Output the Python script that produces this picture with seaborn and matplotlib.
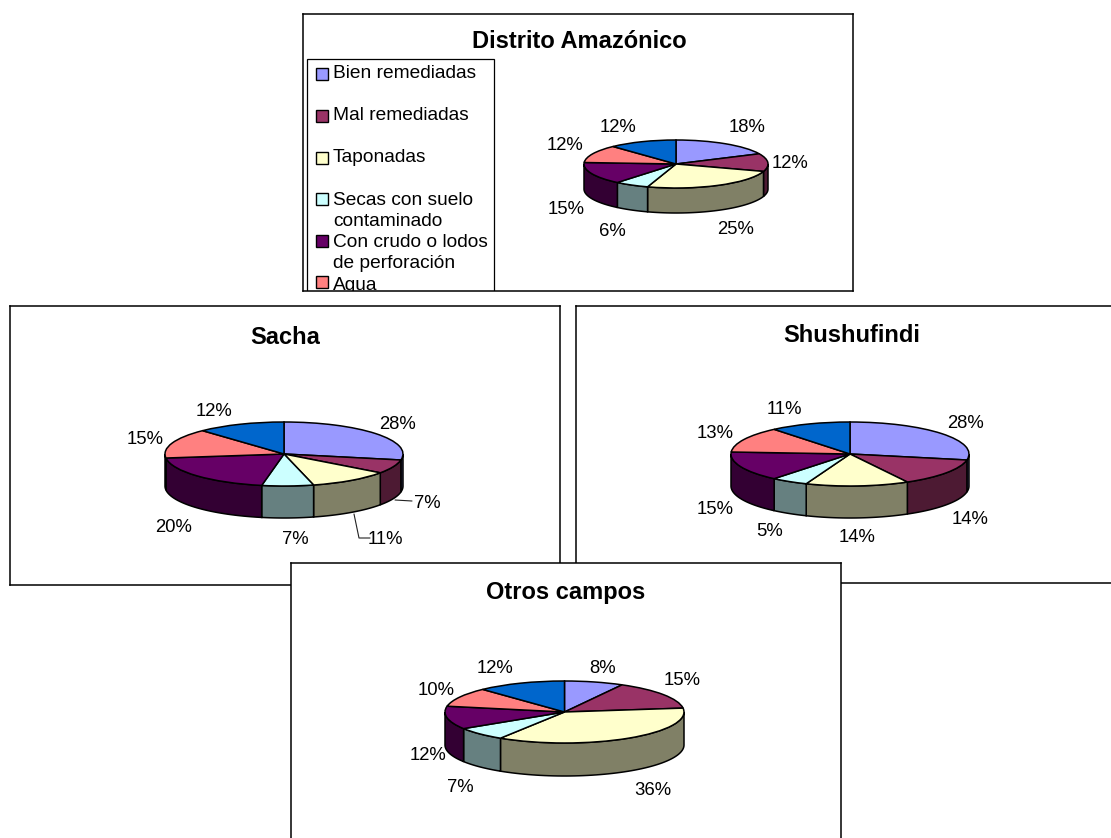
import numpy as np
import matplotlib
matplotlib.use("Agg")
import matplotlib.pyplot as plt
from matplotlib.patches import Rectangle
import seaborn as sns

# Well-pit categories and their shares (%) for each field
categories = ["Bien remediadas", "Mal remediadas", "Taponadas",
              "Secas con suelo\ncontaminado", "Con crudo o lodos\nde perforación", "Agua"]
amazonico = [18, 12, 25, 6, 15, 12, 12]
sacha = [28, 7, 11, 7, 20, 15, 12]
shushufindi = [28, 14, 14, 5, 15, 13, 11]
otros = [8, 15, 36, 7, 12, 10, 12]

slice_hex = ["#9999FF", "#993366", "#FFFFCC", "#CCFFFF", "#660066", "#FF8080", "#0066CC"]

sns.set_theme(style="white")
plt.rcParams["font.family"] = ["Liberation Sans", "DejaVu Sans"]

W, H = 1111, 838
fig = plt.figure(figsize=(W / 100, H / 100), dpi=100, facecolor="white")
palette = sns.color_palette(slice_hex)
side_palette = [tuple(0.5 * c for c in col) for col in palette]


def pixel_axes(left, top, right, bottom, zorder):
    return fig.add_axes([left / W, 1 - bottom / H, (right - left) / W, (bottom - top) / H],
                        zorder=zorder)


def draw_panel(values, title, title_xy, frame, pie_box, label_xy, z):
    """One boxed chart: frame, title, extruded pie and percent labels."""
    left, top, right, bottom = frame
    panel = pixel_axes(left, top, right, bottom, z)
    panel.set_xlim(left, right)
    panel.set_ylim(bottom, top)
    panel.set_xticks([])
    panel.set_yticks([])
    panel.set_facecolor("white")
    for spine in panel.spines.values():
        spine.set_visible(True)
        spine.set_color("black")
        spine.set_linewidth(1.1)
    panel.text(*title_xy, title, ha="center", va="center", fontsize=17,
               fontweight="bold", color="black")
    for (x, y), v in zip(label_xy, values):
        panel.text(x, y, f"{v}%", ha="center", va="center", fontsize=13.3, color="black")

    cx, cy, rx, ry, depth = pie_box
    drop = depth / ry
    ax = pixel_axes(cx - rx, cy - ry, cx + rx, cy + ry + depth, z + 1)
    wedges, _ = ax.pie(values, colors=palette, startangle=90, counterclock=False, radius=1,
                       wedgeprops=dict(edgecolor="black", linewidth=1.1, clip_on=False))
    ax.set_aspect("auto")
    ax.set_xlim(-1, 1)
    ax.set_ylim(-1 - drop, 1)
    ax.patch.set_alpha(0)
    ax.set_axis_off()

    # Extruded rim: only the front half of the circle (180 to 360 degrees) shows
    edges = 90 - 3.6 * np.cumsum([0] + list(values))
    for a_start, a_end, shade in zip(edges[:-1], edges[1:], side_palette):
        for shift in (0, 360, -360):
            hi = min(a_start + shift, 360)
            lo = max(a_end + shift, 180)
            if hi <= lo:
                continue
            theta = np.radians(np.linspace(lo, hi, 60))
            xs = np.cos(theta)
            ys = np.sin(theta)
            poly_x = np.r_[xs, xs[::-1]]
            poly_y = np.r_[ys, ys[::-1] - drop]
            ax.fill(poly_x, poly_y, facecolor=shade, edgecolor="black",
                    linewidth=1.1, zorder=0.5, clip_on=False)
    return panel


# Distrito Amazónico, with its legend cut off by the frame
top_panel = draw_panel(amazonico, "Distrito Amazónico", (579, 42), (303, 14, 853, 291),
                       (676, 164, 92, 24, 25),
                       [(747, 128), (790, 164), (736, 229), (612, 231),
                        (566, 210), (565, 146), (618, 127)], 1)
top_panel.add_patch(Rectangle((307, 59), 187, 250, facecolor="white", edgecolor="black",
                              linewidth=0.9, clip_on=True))
swatch_y = [74, 116, 158, 199, 241, 282]
text_y = [73, 115, 157, 211, 253, 285]
for name, sy, ty, col in zip(categories, swatch_y, text_y, palette):
    top_panel.add_patch(Rectangle((316, sy - 6), 12, 12, facecolor=col, edgecolor="black",
                                  linewidth=1.0, clip_on=True))
    top_panel.text(333, ty, name, ha="left", va="center", fontsize=13.8, color="black",
                   linespacing=1.38, clip_on=True)

sacha_panel = draw_panel(sacha, "Sacha", (285, 337), (10, 306, 560, 585),
                         (284, 454, 119, 32, 32),
                         [(398, 424), (427, 503), (385, 539), (295, 539),
                          (174, 527), (145, 439), (214, 411)], 3)
# Leader lines for the two small slices
sacha_panel.plot([395, 412], [500, 501], color="#222222", lw=0.8)
sacha_panel.plot([354, 359, 370], [514, 538, 538], color="#222222", lw=0.8)

draw_panel(shushufindi, "Shushufindi", (852, 336), (576, 306, 1125, 583),
           (850, 454, 119, 32, 32),
           [(965, 423), (970, 520), (857, 538), (770, 532),
            (715, 509), (715, 434), (784, 409)], 5)

draw_panel(otros, "Otros campos", (566, 592), (291, 563, 841, 850),
           (564.5, 712, 119.5, 31, 33),
           [(603, 668), (682, 680), (653, 790), (460, 787),
            (428, 755), (436, 690), (495, 668)], 7)

fig.savefig("out.png", dpi=100, facecolor="white")
